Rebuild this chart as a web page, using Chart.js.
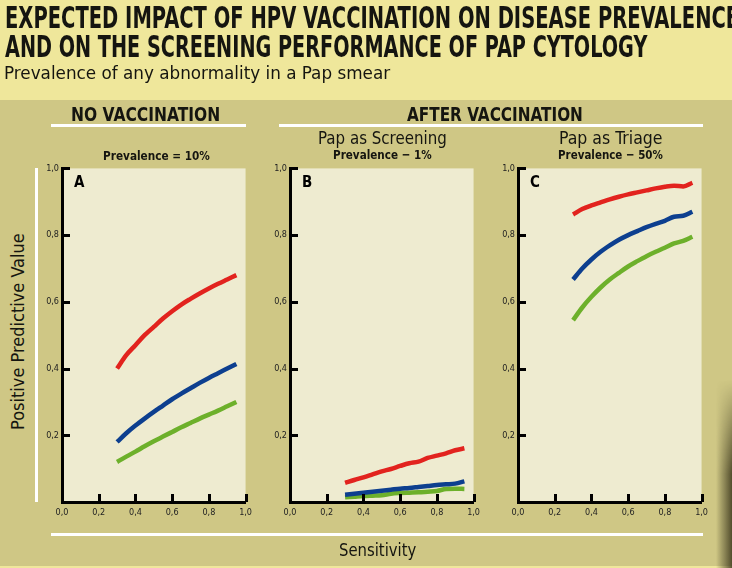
<!DOCTYPE html>
<html lang="en">
<head>
<meta charset="UTF-8" />
<title>HPV vaccination and Pap cytology</title>
<script src="https://cdn.jsdelivr.net/npm/chart.js"></script>
<style>
  body {
    margin: 0;
    width: 732px;
    height: 568px;
    overflow: hidden;
    position: relative;
    background: #cfc785;
    font-family: "DejaVu Sans Condensed", "DejaVu Sans", sans-serif;
  }
  .band { position: absolute; left: 0; width: 732px; background: #efe79b; }
  .rule { position: absolute; background: #fff; }
  .txt {
    position: absolute;
    white-space: nowrap;
    line-height: 1;
    transform-origin: 0 0;
    color: #151510;
  }
  .b { font-weight: bold; }
  canvas { position: absolute; }
  .shadow {
    position: absolute; left: 716px; top: 380px; width: 16px; height: 188px;
    background: linear-gradient(to right, rgba(60,55,25,0), rgba(40,36,15,0.75));
    -webkit-mask-image: linear-gradient(to bottom, transparent, #000 50%);
    mask-image: linear-gradient(to bottom, transparent, #000 50%);
  }
</style>
</head>
<body>
  <div class="band" style="top:0;height:100px"></div>
  <div class="band" style="top:566px;height:2px"></div>

  <div class="txt b" data-w="734" style="left:5px;top:3px;font-size:30px">EXPECTED IMPACT OF HPV VACCINATION ON DISEASE PREVALENCE</div>
  <div class="txt b" data-w="642" style="left:5px;top:32px;font-size:30px">AND ON THE SCREENING PERFORMANCE OF PAP CYTOLOGY</div>
  <div class="txt" data-w="386" style="left:4px;top:64px;font-size:18px">Prevalence of any abnormality in a Pap smear</div>

  <div class="txt b" data-w="149" style="left:71px;top:105px;font-size:19px">NO VACCINATION</div>
  <div class="txt b" data-w="176" style="left:407px;top:105px;font-size:19px">AFTER VACCINATION</div>
  <div class="rule" style="left:51px;top:124px;width:195px;height:3px"></div>
  <div class="rule" style="left:279px;top:124px;width:424px;height:3px"></div>

  <div class="txt b" data-w="107" style="left:103px;top:149px;font-size:13px">Prevalence = 10%</div>
  <div class="txt" data-w="129" style="left:318px;top:130px;font-size:17px">Pap as Screening</div>
  <div class="txt b" data-w="99" style="left:333px;top:148px;font-size:13px">Prevalence &minus; 1%</div>
  <div class="txt" data-w="103" style="left:559px;top:130px;font-size:17px">Pap as Triage</div>
  <div class="txt b" data-w="105" style="left:558px;top:148px;font-size:13px">Prevalence &minus; 50%</div>

  <div class="rule" style="left:35px;top:168px;width:3px;height:334px"></div>
  <div class="rule" style="left:51px;top:533px;width:652px;height:3px"></div>
  <div class="txt" data-w="197" data-rot="1" style="left:10px;top:430px;font-size:17px">Positive Predictive Value</div>
  <div class="txt" data-w="77" style="left:339px;top:541px;font-size:18px">Sensitivity</div>

  <canvas id="panelA" width="217" height="362" style="left:40px;top:160px"></canvas>
  <canvas id="panelB" width="217" height="362" style="left:268px;top:160px"></canvas>
  <canvas id="panelC" width="217" height="362" style="left:496px;top:160px"></canvas>

  <div class="shadow"></div>

<script>
  // sensitivity values along the x axis (same for every panel)
  const sensitivity = [0.3, 0.35, 0.4, 0.45, 0.5, 0.55, 0.6, 0.65, 0.7, 0.75, 0.8, 0.85, 0.9, 0.95];

  // A: no vaccination, prevalence 10%
  const redA = [0.40, 0.44, 0.47, 0.50, 0.525, 0.55, 0.572, 0.592, 0.609, 0.625, 0.64, 0.654, 0.667, 0.68];
  const blueA = [0.18, 0.206, 0.229, 0.25, 0.27, 0.289, 0.308, 0.325, 0.341, 0.357, 0.372, 0.386, 0.40, 0.414];
  const greenA = [0.12, 0.136, 0.151, 0.167, 0.182, 0.196, 0.21, 0.224, 0.237, 0.25, 0.262, 0.274, 0.287, 0.30];

  // B: pap as screening, prevalence 1%
  const redB = [0.057, 0.066, 0.074, 0.083, 0.092, 0.099, 0.108, 0.116, 0.121, 0.132, 0.139, 0.146, 0.155, 0.161];
  const blueB = [0.022, 0.025, 0.028, 0.031, 0.034, 0.037, 0.040, 0.042, 0.045, 0.048, 0.051, 0.053, 0.055, 0.062];
  const greenB = [0.014, 0.016, 0.018, 0.019, 0.020, 0.025, 0.027, 0.028, 0.029, 0.031, 0.033, 0.039, 0.040, 0.039];

  // C: pap as triage, prevalence 50%
  const redC = [0.862, 0.878, 0.889, 0.898, 0.907, 0.915, 0.922, 0.928, 0.934, 0.940, 0.945, 0.948, 0.946, 0.957];
  const blueC = [0.667, 0.70, 0.727, 0.75, 0.769, 0.786, 0.80, 0.812, 0.824, 0.834, 0.843, 0.855, 0.858, 0.870];
  const greenC = [0.545, 0.583, 0.615, 0.643, 0.667, 0.687, 0.706, 0.722, 0.737, 0.75, 0.762, 0.775, 0.783, 0.795];

  const xTickValues = [0, 0.2, 0.4, 0.6, 0.8, 1.0];
  const xTickLabels = ["0,0", "0,2", "0,4", "0,6", "0,8", "1,0"];
  const yTickValues = [0, 0.2, 0.4, 0.6, 0.8, 1.0];
  const yTickLabels = ["", "0,2", "0,4", "0,6", "0,8", "1,0"];

  const RED = "#e2231e";
  const BLUE = "#0d3f8f";
  const GREEN = "#6db02b";

  // squeeze the headings to the widths they have in the print
  document.querySelectorAll(".txt").forEach((el) => {
    const k = +el.dataset.w / el.offsetWidth;
    el.style.transform = el.dataset.rot ? `rotate(-90deg) scaleX(${k})` : `scaleX(${k})`;
  });

  // cream plot area, inward tick marks and the panel letter
  const panelDecor = {
    id: "panelDecor",
    beforeDraw(chart) {
      const { ctx, chartArea: a } = chart;
      ctx.save();
      ctx.fillStyle = "#eeebd0";
      ctx.fillRect(a.left, a.top, a.right - a.left, a.bottom - a.top);
      ctx.restore();
    },
    afterDraw(chart, args, opts) {
      const { ctx, chartArea: a, scales } = chart;
      ctx.save();
      ctx.strokeStyle = "#000";
      ctx.lineWidth = 3;
      ctx.beginPath();
      scales.y.ticks.forEach((t, i) => {
        if (t.value <= 0) return;
        const py = Math.round(scales.y.getPixelForTick(i)) + 0.5;
        ctx.moveTo(a.left, py);
        ctx.lineTo(a.left + 8, py);
      });
      scales.x.ticks.forEach((t, i) => {
        if (t.value <= 0) return;
        const px = Math.round(scales.x.getPixelForTick(i)) + 0.5;
        ctx.moveTo(px, a.bottom);
        ctx.lineTo(px, a.bottom - 8);
      });
      ctx.stroke();
      ctx.fillStyle = "#000";
      ctx.font = 'bold 15px "DejaVu Sans Condensed", "DejaVu Sans", sans-serif';
      ctx.fillText(opts.letter, a.left + 12, a.top + 19);
      ctx.restore();
    },
  };

  const tickFont = { family: '"Liberation Sans Narrow", "DejaVu Sans Condensed", sans-serif', size: 9 };

  function series(values, color) {
    return {
      data: sensitivity.map((s, i) => ({ x: s, y: values[i] })),
      borderColor: color,
      borderWidth: 4.5,
      pointRadius: 0,
      fill: false,
      cubicInterpolationMode: "monotone",
    };
  }

  function makePanel(id, letter, red, blue, green) {
    return new Chart(document.getElementById(id), {
      type: "line",
      data: { datasets: [series(red, RED), series(blue, BLUE), series(green, GREEN)] },
      options: {
        responsive: false,
        animation: false,
        devicePixelRatio: 1,
        layout: { padding: { left: 2, right: 10, top: 8, bottom: 0 } },
        plugins: {
          legend: { display: false },
          tooltip: { enabled: false },
          panelDecor: { letter },
        },
        scales: {
          x: {
            type: "linear",
            min: 0,
            max: 1,
            afterBuildTicks: (s) => { s.ticks = xTickValues.map((v) => ({ value: v })); },
            afterFit: (s) => { s.height = 20; },
            ticks: { callback: (v, i) => xTickLabels[i], font: tickFont, color: "#222", padding: 5, maxRotation: 0 },
            grid: { display: false, drawTicks: false },
            border: { color: "#000", width: 3 },
          },
          y: {
            min: 0,
            max: 1,
            afterBuildTicks: (s) => { s.ticks = yTickValues.map((v) => ({ value: v })); },
            afterFit: (s) => { s.width = 20; },
            ticks: { callback: (v, i) => yTickLabels[i], font: tickFont, color: "#222", padding: 3 },
            grid: { display: false, drawTicks: false },
            border: { color: "#000", width: 3 },
          },
        },
      },
      plugins: [panelDecor],
    });
  }

  makePanel("panelA", "A", redA, blueA, greenA);
  makePanel("panelB", "B", redB, blueB, greenB);
  makePanel("panelC", "C", redC, blueC, greenC);
</script>
</body>
</html>
